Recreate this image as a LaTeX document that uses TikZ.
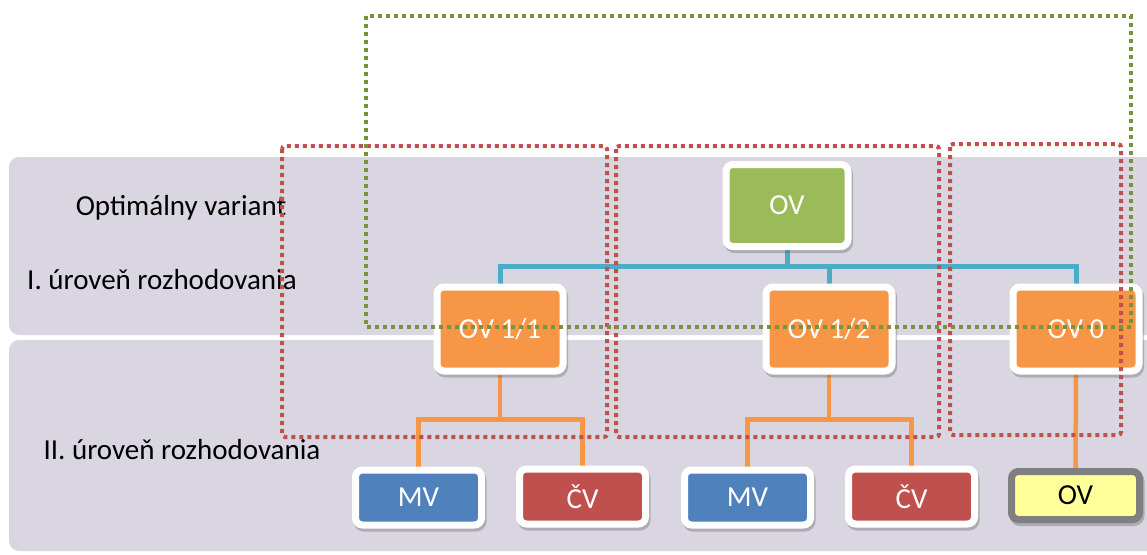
\documentclass[tikz,border=0pt]{standalone}
\usepackage{fontspec}
\setmainfont{Carlito}
\usetikzlibrary{calc,shadows}
\pgfdeclarelayer{bg}\pgfdeclarelayer{conn}\pgfdeclarelayer{fg}
\pgfsetlayers{bg,conn,main,fg}
\definecolor{band}{RGB}{217,213,225}
\definecolor{ovgreen}{RGB}{155,187,89}
\definecolor{ovorange}{RGB}{247,150,70}
\definecolor{mvblue}{RGB}{79,129,189}
\definecolor{cvred}{RGB}{192,80,77}
\definecolor{ovyellow}{RGB}{255,255,153}
\definecolor{ovgray}{RGB}{127,127,127}
\definecolor{busblue}{RGB}{75,172,198}
\definecolor{dotred}{RGB}{192,80,77}
\definecolor{dotgreen}{RGB}{119,147,60}
\begin{document}
\begin{tikzpicture}[x=1pt,y=-1pt,
  box/.style={draw=white, line width=7pt, rounded corners=7pt, text=white,
    font=\fontsize{29}{34}\selectfont, inner sep=0pt,
    drop shadow={shadow xshift=1.5pt, shadow yshift=-3pt, opacity=.3,
      fill=black!70, draw=black!70, line width=7pt}},
  lvlone/.style={box, fill=ovorange, minimum width=126pt, minimum height=84pt},
  lvltwo/.style={box, minimum width=126pt, minimum height=55pt},
  lbl/.style={font=\fontsize{29}{34}\selectfont, text=black, inner sep=0pt},
  busline/.style={draw=busblue, line width=5pt},
  orangeline/.style={draw=ovorange, line width=4.5pt},
  reddot/.style={draw=dotred, line width=4pt, dash pattern=on 4pt off 4pt, rounded corners=3pt},
  greendot/.style={draw=dotgreen, line width=3.5pt, dash pattern=on 4pt off 4pt}
]
\useasboundingbox (0,0) rectangle (1147,554);

\begin{pgfonlayer}{bg}
  \fill[band, rounded corners=10pt] (9,157) rectangle (1160,335);
  \fill[band, rounded corners=10pt] (9,340) rectangle (1160,551);
\end{pgfonlayer}

\node[lbl] (t1) at (181,208) {Optimálny variant};
\node[lbl] (t2) at (162,280) {I. úroveň rozhodovania};
\node[lbl] (t3) at (182,450) {II. úroveň rozhodovania};

\node[box, fill=ovgreen, minimum width=122pt, minimum height=82pt] (ov) at (787,205.5) {OV};
\node[lvlone] (ov11) at (500,329) {OV 1/1};
\node[lvlone] (ov12) at (829,329) {OV 1/2};
\node[lvlone] (ov0) at (1076,329) {OV 0};

\node[lvltwo, fill=mvblue] (mv1) at (418.5,497.5) {MV};
\node[lvltwo, fill=cvred] (cv1) at (582.5,496.5) {ČV};
\node[lvltwo, fill=mvblue] (mv2) at (747.5,497.5) {MV};
\node[lvltwo, fill=cvred] (cv2) at (911.5,496.5) {ČV};
\node[box, draw=ovgray, fill=ovyellow, text=black, minimum width=128pt, minimum height=48pt] (ovy) at (1075.5,495.5) {OV};

\begin{pgfonlayer}{conn}
  \coordinate (bus) at ($(ov.south)+(0,16)$);
  \draw[busline] (ov.south) -- (bus) -| (ov11.north);
  \draw[busline] (bus) -| (ov12.north);
  \draw[busline] (bus) -| (ov0.north);
  \coordinate (j1) at ($(ov11.south)+(0,45)$);
  \draw[orangeline] (ov11.south) -- (j1) -| (mv1.north);
  \draw[orangeline] (j1) -| (cv1.north);
  \coordinate (j2) at ($(ov12.south)+(0,45)$);
  \draw[orangeline] (ov12.south) -- (j2) -| (mv2.north);
  \draw[orangeline] (j2) -| (cv2.north);
  \draw[orangeline] (ov0.south) -- (ovy.north);
\end{pgfonlayer}

\begin{pgfonlayer}{fg}
  \draw[reddot] (282,146) rectangle (607,437);
  \draw[reddot] (616,146) rectangle (939,437);
  \draw[reddot] (950,144) rectangle (1121,435);
  \draw[greendot] (366,16) rectangle (1131,327);
\end{pgfonlayer}
\end{tikzpicture}
\end{document}
